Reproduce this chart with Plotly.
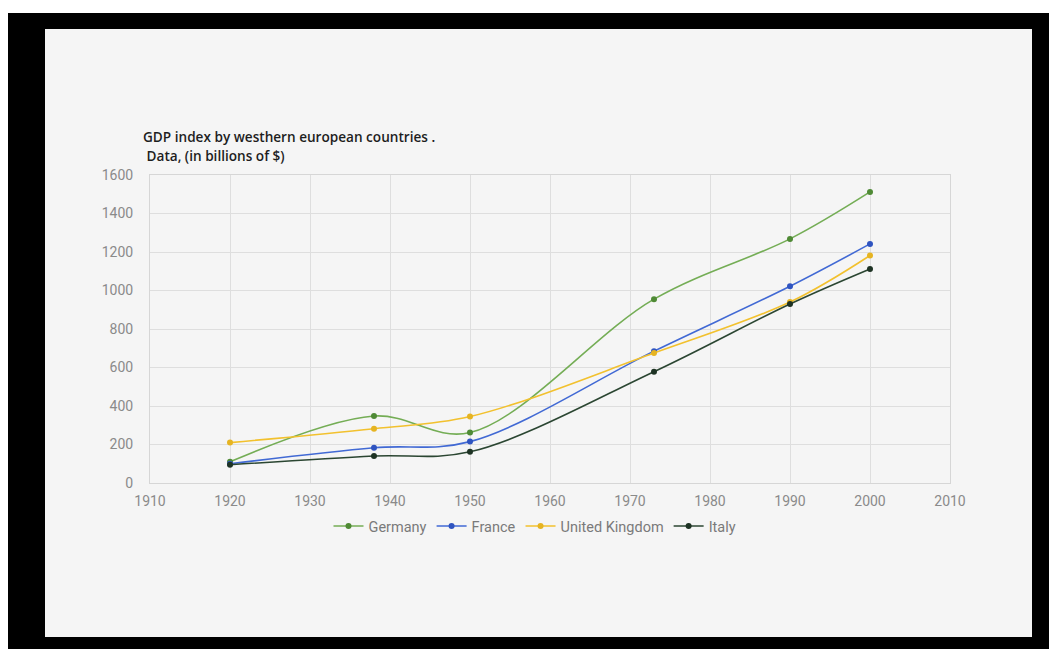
import plotly.graph_objects as go

years = [1920, 1938, 1950, 1973, 1990, 2000]
germany = [110, 348, 262, 955, 1268, 1512]
france = [100, 183, 215, 685, 1022, 1242]
uk = [210, 282, 345, 675, 940, 1182]
italy = [95, 140, 162, 578, 930, 1112]

series = [
    ("Germany", germany, "#74ad55", "#4f8a35"),
    ("France", france, "#4169d4", "#2f54c0"),
    ("United Kingdom", uk, "#f2c12e", "#e6b422"),
    ("Italy", italy, "#2b4632", "#1e3324"),
]

x_ticks = list(range(1910, 2011, 10))
y_ticks = list(range(0, 1601, 200))

# page has an 8px body margin; figure coordinates = reference coordinates - 8
OFF = 8
W, H = 1057 - OFF, 649 - OFF
L, R, T, B = 150 - OFF, 950 - OFF, 175 - OFF, 483 - OFF

def px(xp):
    return (xp - OFF - L) / (R - L)

def py(yp):
    return (B - (yp - OFF)) / (B - T)

fig = go.Figure()
for name, vals, lc, mc in series:
    fig.add_trace(go.Scatter(
        x=years, y=vals, name=name, mode="lines+markers",
        line=dict(color=lc, width=1.6, shape="spline", smoothing=1.0),
        marker=dict(color=mc, size=6),
    ))

shapes = [
    dict(type="rect", xref="paper", yref="paper", x0=px(0), x1=px(1057), y0=py(13), y1=py(0),
         fillcolor="white", line=dict(width=0), layer="below"),
    dict(type="rect", xref="paper", yref="paper", x0=px(45), x1=px(1032), y0=py(637), y1=py(29),
         fillcolor="#f5f5f5", line=dict(width=0), layer="below"),
]

fig.update_layout(
    width=W, height=H,
    margin=dict(l=L, r=W - R, t=T, b=H - B, pad=0),
    paper_bgcolor="black",
    plot_bgcolor="#f5f5f5",
    shapes=shapes,
    showlegend=True,
    legend=dict(orientation="h", x=px(535), xanchor="center", y=py(526), yanchor="middle",
                font=dict(family="Roboto", size=14.5, color="#7a7a7a"),
                bgcolor="rgba(0,0,0,0)", itemwidth=30, tracegroupgap=0),
    annotations=[
        dict(text="GDP index by westhern european countries .", xref="paper", yref="paper",
             x=px(141), y=py(136), xanchor="left", yanchor="middle", showarrow=False,
             font=dict(family="Open Sans", size=13.6, color="#1e1e1e", weight=600)),
        dict(text="\u00a0Data, (in billions of $)", xref="paper", yref="paper",
             x=px(141), y=py(155), xanchor="left", yanchor="middle", showarrow=False,
             font=dict(family="Open Sans", size=13.6, color="#1e1e1e", weight=600)),
    ],
)

fig.update_xaxes(
    range=[1910, 2010], tickvals=x_ticks, ticktext=[str(v) for v in x_ticks],
    showgrid=True, gridcolor="#dedede", gridwidth=1,
    showline=True, linecolor="#d6d6d6", linewidth=1, mirror=True,
    zeroline=False, ticks="", ticklabelstandoff=5,
    tickfont=dict(family="Roboto", size=14, color="#8a8a8a"),
)
fig.update_yaxes(
    range=[0, 1600], tickvals=y_ticks, ticktext=[str(v) for v in y_ticks],
    showgrid=True, gridcolor="#dedede", gridwidth=1,
    showline=True, linecolor="#d6d6d6", linewidth=1, mirror=True,
    zeroline=False, ticks="", ticklabelstandoff=13,
    tickfont=dict(family="Roboto", size=14, color="#8a8a8a"),
)

fig.write_html("out.html")
